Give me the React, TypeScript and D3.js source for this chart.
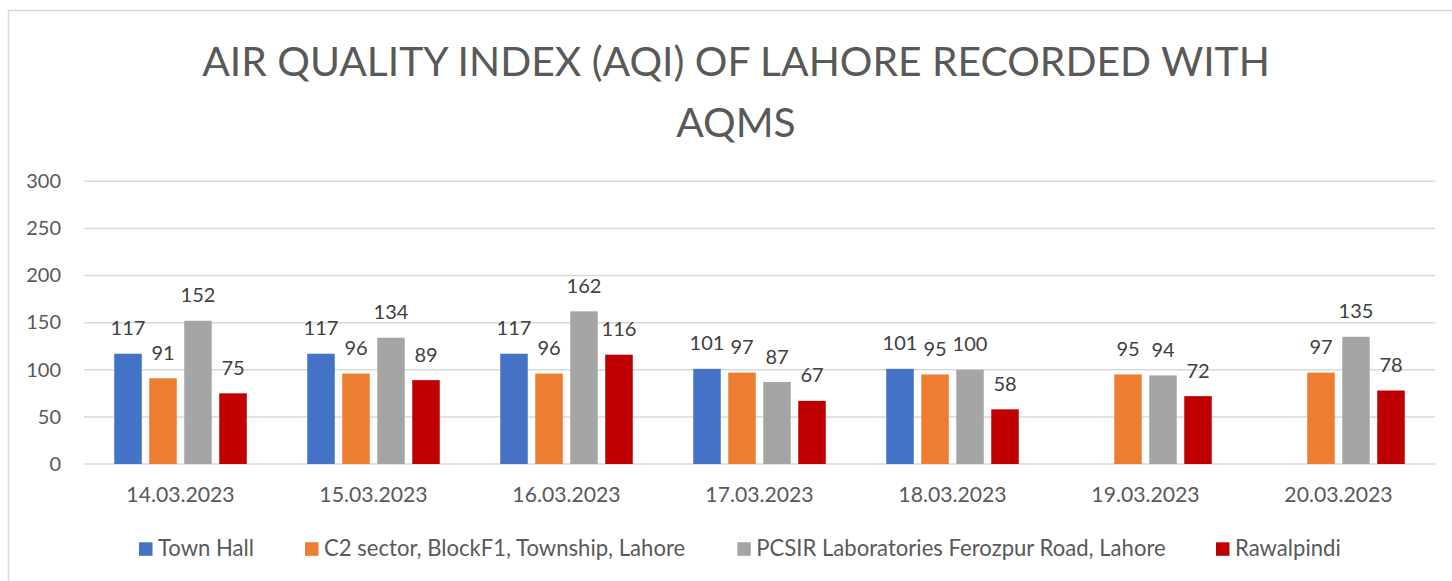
import { useEffect, useRef } from 'react';
import * as d3 from 'd3';

const dates = ['14.03.2023', '15.03.2023', '16.03.2023', '17.03.2023', '18.03.2023', '19.03.2023', '20.03.2023'];
const seriesNames = [
  'Town Hall',
  'C2 sector, BlockF1, Township, Lahore',
  'PCSIR Laboratories Ferozpur Road, Lahore',
  'Rawalpindi',
];
const townHall = [117, 117, 117, 101, 101, null, null];
const c2Sector = [91, 96, 96, 97, 95, 95, 97];
const pcsir = [152, 134, 162, 87, 100, 94, 135];
const rawalpindi = [75, 89, 116, 67, 58, 72, 78];
const colors = ['#4472c4', '#ed7d31', '#a5a5a5', '#c00000'];
const yTicks = [0, 50, 100, 150, 200, 250, 300];

const FONT = 'Lato, sans-serif';

function App() {
  const ref = useRef<SVGSVGElement>(null);

  useEffect(() => {
    const svg = d3.select(ref.current);
    svg.selectAll('*').remove();
    const values = [townHall, c2Sector, pcsir, rawalpindi];

    // chart frame
    svg.append('rect')
      .attr('x', 8.5).attr('y', 10.5)
      .attr('width', 1500).attr('height', 600)
      .attr('fill', 'white').attr('stroke', '#d9d9d9').attr('stroke-width', 1.5);

    // title
    const title = svg.append('text')
      .attr('text-anchor', 'middle')
      .attr('font-family', FONT).attr('font-size', 40.8).attr('fill', '#595959');
    title.append('tspan').attr('x', 736).attr('y', 76).text('AIR QUALITY INDEX (AQI) OF LAHORE RECORDED WITH');
    title.append('tspan').attr('x', 736).attr('y', 137).text('AQMS');

    const x0 = d3.scaleBand().domain(dates).range([84, 1435]);
    const x1 = d3.scaleBand().domain(seriesNames)
      .range([30.25, x0.bandwidth() - 30.25]).paddingInner(0.214);
    const y = d3.scaleLinear().domain([0, 300]).range([464, 181.3]);

    // gridlines
    svg.append('g').selectAll('line').data(yTicks).enter().append('line')
      .attr('x1', 84).attr('x2', 1435)
      .attr('y1', (d) => y(d)).attr('y2', (d) => y(d))
      .attr('stroke', '#d9d9d9').attr('stroke-width', 1.5);

    svg.append('g').selectAll('text').data(yTicks).enter().append('text')
      .attr('x', 61).attr('y', (d) => y(d) + 6.8)
      .attr('text-anchor', 'end')
      .attr('font-family', FONT).attr('font-size', 20).attr('fill', '#595959')
      .text((d) => d);

    // x labels
    svg.append('g').selectAll('text').data(dates).enter().append('text')
      .attr('x', (d) => x0(d)! + x0.bandwidth() / 2).attr('y', 502.3)
      .attr('text-anchor', 'middle')
      .attr('font-family', FONT).attr('font-size', 21.2).attr('fill', '#595959')
      .text((d) => d);

    // bars
    seriesNames.forEach((name, si) => {
      const pts = dates
        .map((d, i) => ({ d, v: values[si][i] }))
        .filter((p) => p.v !== null) as { d: string; v: number }[];
      const g = svg.append('g');
      g.selectAll('rect').data(pts).enter().append('rect')
        .attr('x', (p) => x0(p.d)! + x1(name)!)
        .attr('y', (p) => y(p.v))
        .attr('width', x1.bandwidth())
        .attr('height', (p) => y(0) - y(p.v))
        .attr('fill', colors[si]);
      g.selectAll('text').data(pts).enter().append('text')
        .attr('x', (p) => x0(p.d)! + x1(name)! + x1.bandwidth() / 2)
        .attr('y', (p) => y(p.v) - 18.5)
        .attr('text-anchor', 'middle')
        .attr('font-family', FONT).attr('font-size', 20).attr('fill', '#404040')
        .text((p) => p.v);
    });

    // legend
    const legendX = [139, 305, 737.3, 1216];
    const lg = svg.append('g').selectAll('g').data(seriesNames).enter().append('g')
      .attr('transform', (_d, i) => `translate(${legendX[i]},0)`);
    lg.append('rect')
      .attr('x', 0).attr('y', 542.3).attr('width', 13.5).attr('height', 13.5)
      .attr('fill', (_d, i) => colors[i]);
    lg.append('text')
      .attr('x', 19).attr('y', 556)
      .attr('font-family', FONT).attr('font-size', 22.1).attr('fill', '#595959')
      .text((d) => d);
  }, []);

  return (
    <svg ref={ref} width={1452} height={581}
      style={{ position: 'absolute', left: 0, top: 0, background: 'white' }} />
  );
}

export default App;
